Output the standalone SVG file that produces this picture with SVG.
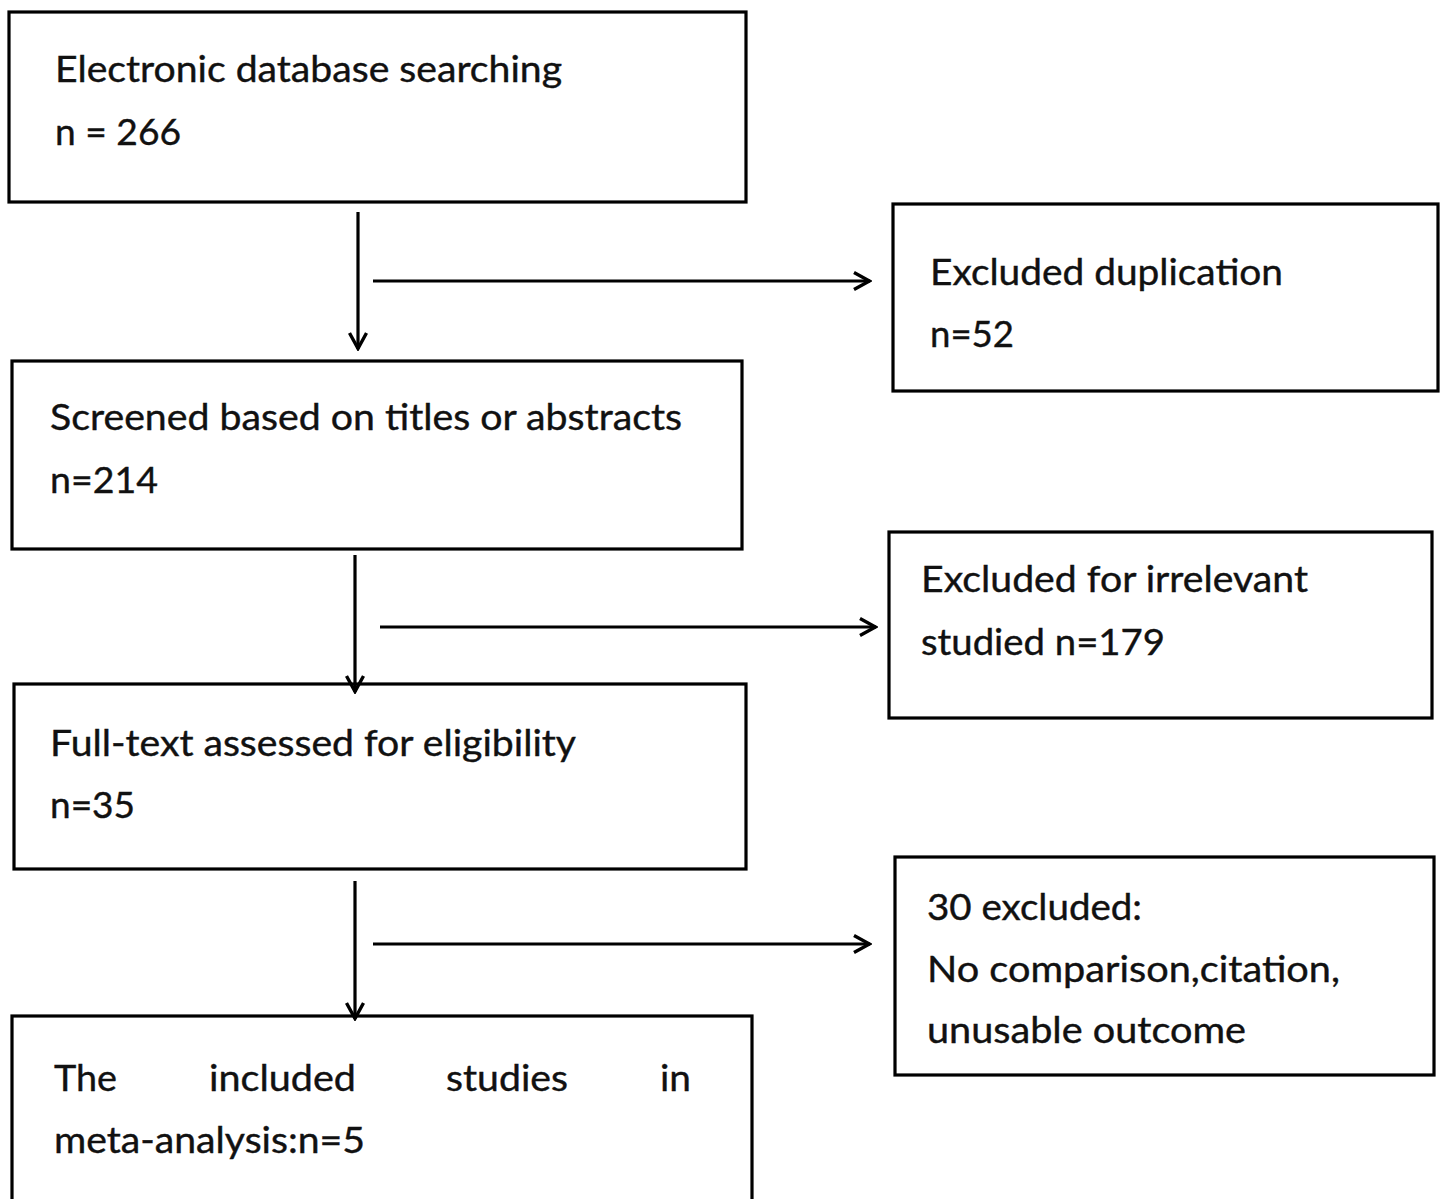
<svg xmlns="http://www.w3.org/2000/svg" width="1443" height="1199" viewBox="0 0 1443 1199">
<style>
.box{fill:#fff;stroke:#000;stroke-width:3.2}
.t{font-family:Lato,"Open Sans","Liberation Sans",sans-serif;font-size:37px;fill:#111;stroke:#111;stroke-width:0.4}
.c{stroke:#000;stroke-width:3.2;fill:none}
</style>
<defs>
<marker id="ah" viewBox="0 0 20 20" refX="18" refY="10" markerWidth="20" markerHeight="20" markerUnits="userSpaceOnUse" orient="auto">
<path d="M2,1.5 L17.5,10 L2,18.5" fill="none" stroke="#000" stroke-width="3.4"/>
</marker>
</defs>
<rect width="1443" height="1199" fill="#fff"/>
<g id="n1">
<rect class="box" x="9" y="12" width="737" height="190"/>
<text class="t" x="55" y="82" textLength="507" lengthAdjust="spacingAndGlyphs">Electronic database searching</text>
<text class="t" x="55" y="145" textLength="126" lengthAdjust="spacingAndGlyphs">n = 266</text>
</g>
<g id="n2">
<rect class="box" x="893" y="204" width="545" height="187"/>
<text class="t" x="930" y="285" textLength="353" lengthAdjust="spacingAndGlyphs">Excluded duplication</text>
<text class="t" x="930" y="347" textLength="84" lengthAdjust="spacingAndGlyphs">n=52</text>
</g>
<g id="n3">
<rect class="box" x="12" y="361" width="730" height="188"/>
<text class="t" x="50" y="430" textLength="632" lengthAdjust="spacingAndGlyphs">Screened based on titles or abstracts</text>
<text class="t" x="50" y="493" textLength="108" lengthAdjust="spacingAndGlyphs">n=214</text>
</g>
<g id="n4">
<rect class="box" x="889" y="532" width="543" height="186"/>
<text class="t" x="921" y="592" textLength="387" lengthAdjust="spacingAndGlyphs">Excluded for irrelevant</text>
<text class="t" x="921" y="655" textLength="244" lengthAdjust="spacingAndGlyphs">studied n=179</text>
</g>
<g id="n5">
<rect class="box" x="14" y="684" width="732" height="185"/>
<text class="t" x="50" y="756" textLength="526" lengthAdjust="spacingAndGlyphs">Full-text assessed for eligibility</text>
<text class="t" x="50" y="818" textLength="85" lengthAdjust="spacingAndGlyphs">n=35</text>
</g>
<g id="n6">
<rect class="box" x="895" y="857" width="539" height="218"/>
<text class="t" x="927" y="920" textLength="215" lengthAdjust="spacingAndGlyphs">30 excluded:</text>
<text class="t" x="927" y="982" textLength="413" lengthAdjust="spacingAndGlyphs">No comparison,citation,</text>
<text class="t" x="927" y="1043" textLength="319" lengthAdjust="spacingAndGlyphs">unusable outcome</text>
</g>
<g id="n7">
<rect class="box" x="12" y="1016" width="740" height="200"/>
<text class="t" x="54" y="1091" textLength="63" lengthAdjust="spacingAndGlyphs">The</text>
<text class="t" x="209" y="1091" textLength="147" lengthAdjust="spacingAndGlyphs">included</text>
<text class="t" x="446" y="1091" textLength="122" lengthAdjust="spacingAndGlyphs">studies</text>
<text class="t" x="660" y="1091" textLength="31" lengthAdjust="spacingAndGlyphs">in</text>
<text class="t" x="54" y="1153" textLength="311" lengthAdjust="spacingAndGlyphs">meta-analysis:n=5</text>
</g>
<g id="connectors">
<line class="c" x1="358" y1="212" x2="358" y2="349" marker-end="url(#ah)"/>
<line class="c" x1="373" y1="281" x2="870" y2="281" marker-end="url(#ah)"/>
<line class="c" x1="355" y1="555" x2="355" y2="692" marker-end="url(#ah)"/>
<line class="c" x1="380" y1="627" x2="876" y2="627" marker-end="url(#ah)"/>
<line class="c" x1="355" y1="881" x2="355" y2="1019" marker-end="url(#ah)"/>
<line class="c" x1="373" y1="944" x2="870" y2="944" marker-end="url(#ah)"/>
</g>
</svg>
